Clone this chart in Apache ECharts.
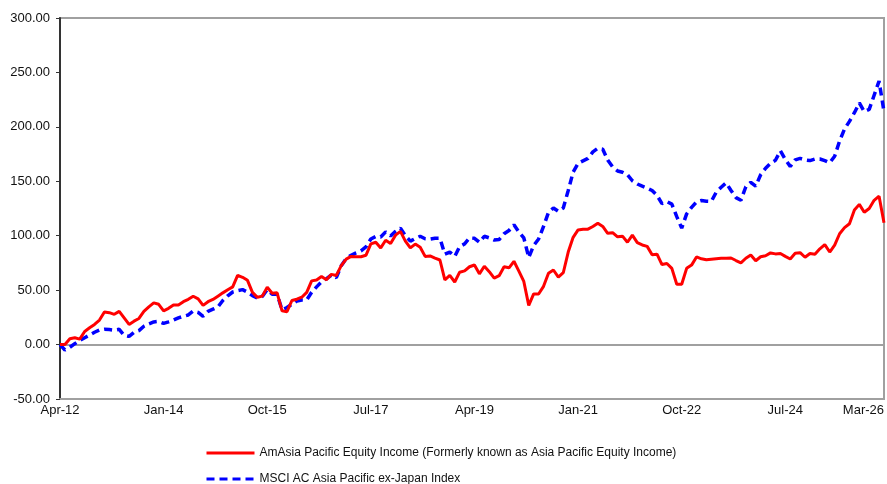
<!DOCTYPE html>
<html>
<head>
<meta charset="utf-8">
<script src="https://cdn.jsdelivr.net/npm/echarts@6/dist/echarts.min.js"></script>
<style>
  html, body { margin: 0; padding: 0; background: #fff; }
  #chart { width: 887px; height: 484px; }
</style>
</head>
<body>
<div id="chart"></div>
<script>
// monthly points, Apr-12 .. Mar-26
const startYear = 2012
const startMonth = 3 // April, 0-based
const monthNames = ['Jan', 'Feb', 'Mar', 'Apr', 'May', 'Jun', 'Jul', 'Aug', 'Sep', 'Oct', 'Nov', 'Dec']

const fundName = 'AmAsia Pacific Equity Income (Formerly known as Asia Pacific Equity Income)'
const indexName = 'MSCI AC Asia Pacific ex-Japan Index'

const fundValues = [
  0, 0, 5.4, 6.2, 5, 12, 15.4, 18.5, 22.5, 30,
  29.3, 27.8, 30.5, 24.5, 18.5, 21.5, 24, 30.5, 34.6, 38.3,
  37, 31, 33.3, 36.4, 36.4, 39.4, 41.6, 44.4, 42, 36,
  39.4, 41.5, 44.5, 47.5, 50.3, 53, 63.6, 61.8, 59, 48,
  43.4, 44.5, 52.8, 47.2, 47.5, 31, 30.2, 40.5, 41.7, 43.5,
  48, 58.5, 59.3, 62.5, 59.5, 64.5, 63.5, 72.5, 78.5, 81,
  80.7, 80.7, 82, 92.5, 94, 88.8, 95.8, 92.8, 100.5, 104,
  95, 88.8, 92.3, 89.4, 81, 81.4, 79.4, 77.7, 59.5, 63.5,
  57.5, 66.5, 67.7, 71.5, 73.1, 65, 72, 67, 61, 63.3,
  71.5, 70.5, 76.5, 67.5, 58, 36, 46.5, 46.5, 53.5, 65.6,
  68.5, 62, 66, 85, 98.5, 105.3, 106, 106, 108.5, 111.5,
  108.5, 102.2, 102.8, 99, 99.6, 94, 100.5, 93.6, 91.5, 90.2,
  82.5, 83, 73.5, 74.5, 70, 55.4, 55.4, 70, 73, 80.5,
  78.8, 77.9, 78.4, 78.9, 79.3, 79.3, 79.5, 77.2, 75, 79.3,
  82.3, 77, 80.7, 81.6, 84.2, 83.3, 83.6, 81, 78.6, 83.9,
  84.4, 80.2, 83.7, 83, 88, 91.8, 85, 91.3, 101.8, 107.4,
  111, 123.6, 128.8, 121.5, 125, 132.5, 136.3, 112
]

const indexValues = [
  0, -5, -2.5, 0.8, 3.8, 6.3, 8.7, 11.3, 13.3, 14,
  13.8, 13.2, 14, 8.5, 7.5, 11.2, 12.8, 16.8, 19, 20.8,
  21.3, 19.5, 20.8, 22.5, 24.5, 26, 27.2, 30.8, 29.5, 26,
  30.5, 32.5, 34.5, 40.5, 44.8, 48.3, 49.5, 50.5, 48.2, 45,
  42.8, 44.3, 50.5, 46.3, 46.2, 32, 34, 37, 40, 41,
  41, 48, 53, 57.5, 60.5, 63.8, 61.5, 72.5, 79, 82,
  84.2, 86, 89.7, 97, 99.3, 98.8, 103.5, 99.8, 104, 107,
  100, 95, 97.5, 99.5, 97.2, 96.8, 97.6, 97.6, 83, 85,
  81, 90, 92.5, 98, 97.6, 94, 99.5, 98, 96, 96.5,
  101.8, 104.8, 110, 103.5, 98, 80, 91, 97, 108.5, 121.5,
  125.5, 122.5, 125.5, 141.5, 158.5, 166.5, 168.8, 171, 177, 180.3,
  179.5, 169.5, 163.2, 159.5, 158.3, 156, 150.5, 147.5, 145.5, 143.7,
  141.5, 137, 129.5, 131.3, 129, 117.5, 107, 120, 126, 131,
  132.3, 131.7, 131.5, 140, 144.5, 148.5, 141.5, 135, 132.5, 145,
  149, 145.5, 156, 162, 166.5, 169.3, 178, 170, 163.5, 169.7,
  171, 169.6, 169, 170.5, 170.5, 169, 167, 173, 187, 198,
  205, 213, 222, 214, 216, 229, 242, 214
]

const categories = fundValues.map((v, i) => {
  const m = startMonth + i
  const y = startYear + Math.floor(m / 12)
  return monthNames[m % 12] + '-' + String(y % 100).padStart(2, '0')
})
const labelStep = 21

const chart = echarts.init(document.getElementById('chart'))
const textFont = { fontFamily: 'Liberation Sans, Arial, sans-serif', fontSize: 13, color: '#111' }

// one legend per row, so the second row isn't pushed into a new column
const legendBase = {
  orient: 'vertical',
  left: 205,
  padding: 0,
  itemWidth: 48,
  itemHeight: 14,
  textStyle: { ...textFont, fontSize: 12 },
  itemStyle: { opacity: 0 },
  lineStyle: { width: 3 }
}

chart.setOption({
  animation: false,
  backgroundColor: '#fff',
  grid: {
    left: 60,
    right: 3,
    top: 18,
    bottom: 85,
    show: true,
    borderColor: '#a0a0a0',
    borderWidth: 2
  },
  legend: [
    { ...legendBase, top: 447, data: [fundName] },
    { ...legendBase, top: 473, data: [indexName] }
  ],
  xAxis: {
    type: 'category',
    data: categories,
    boundaryGap: false,
    axisLine: { onZero: false, lineStyle: { color: '#a0a0a0', width: 2 } },
    axisTick: { show: false },
    axisLabel: {
      ...textFont,
      margin: 5,
      interval: (idx) => idx % labelStep === 0 || idx === categories.length - 1,
      alignMaxLabel: 'right',
      showMaxLabel: true
    },
    splitLine: { show: false }
  },
  yAxis: {
    type: 'value',
    min: -50,
    max: 300,
    interval: 50,
    axisLine: { show: true, lineStyle: { color: '#333', width: 2 } },
    axisTick: { show: true, length: 4, lineStyle: { color: '#333', width: 1 } },
    axisLabel: {
      ...textFont,
      margin: 10,
      formatter: (v) => v.toFixed(2)
    },
    splitLine: {
      show: true,
      lineStyle: {
        color: ['#a0a0a0', '#a0a0a0', 'transparent', 'transparent', 'transparent', 'transparent', 'transparent', '#a0a0a0'],
        width: 2
      }
    }
  },
  series: [
    {
      name: fundName,
      type: 'line',
      data: fundValues,
      symbol: 'none',
      lineStyle: { color: '#ff0000', width: 3 },
      itemStyle: { color: '#ff0000' },
      z: 3
    },
    {
      name: indexName,
      type: 'line',
      data: indexValues,
      symbol: 'none',
      lineStyle: { color: '#0000ff', width: 3.5, type: [8, 5] },
      itemStyle: { color: '#0000ff' },
      z: 2
    }
  ]
})
</script>
</body>
</html>
